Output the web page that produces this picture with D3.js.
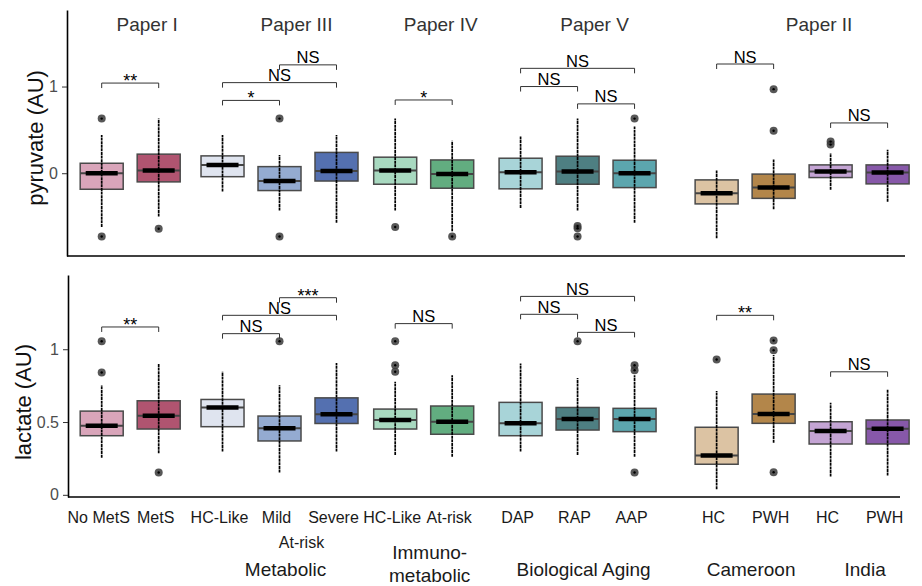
<!DOCTYPE html>
<html>
<head>
<meta charset="utf-8">
<script src="https://cdn.jsdelivr.net/npm/d3@7/dist/d3.min.js"></script>
<style>
  body { margin: 0; background: #fff; }
  svg { display: block; font-family: "Liberation Sans", Arial, sans-serif; }
</style>
</head>
<body>
<svg id="chart" width="922" height="586"></svg>
<script>
// ---- data ----
const categories = ["No MetS", "MetS", "HC-Like", "Mild\nAt-risk", "Severe", "HC-Like", "At-risk",
                    "DAP", "RAP", "AAP", "HC", "PWH", "HC", "PWH"];
const groupOf   = [0, 0, 1, 1, 1, 2, 2, 3, 3, 3, 4, 4, 5, 5];
const groupNames = ["", "Metabolic", "Immuno-\nmetabolic", "Biological Aging", "Cameroon", "India"];
const papers     = ["Paper I", "Paper III", "Paper IV", "Paper V", "Paper II"];
const paperSpan  = [[0, 1], [2, 4], [5, 6], [7, 9], [10, 13]];
const fills = ["#d9a5ba", "#b05470", "#dfe4ef", "#94abd1", "#5470b0", "#a8d9c0", "#62ad80",
               "#a8d4d8", "#4e7f82", "#5ca6ae", "#dcc3a3", "#b3864a", "#c4a4d4", "#8758a9"];

// pyruvate (AU)
const pyrLo  = [-0.62, -0.50, -0.21, -0.43, -0.57, -0.43, -0.67, -0.40, -0.43, -0.57, -0.75, -0.415, -0.19, -0.33];
const pyrQ1  = [-0.185, -0.10, -0.04, -0.20, -0.09, -0.127, -0.173, -0.18, -0.127, -0.166, -0.354, -0.29, -0.05, -0.123];
const pyrMed = [0.00, 0.03, 0.095, -0.09, 0.027, 0.03, -0.008, 0.01, 0.02, 0.00, -0.23, -0.166, 0.02, 0.007];
const pyrQ3  = [0.115, 0.22, 0.20, 0.076, 0.24, 0.185, 0.153, 0.173, 0.196, 0.15, -0.077, -0.01, 0.096, 0.096];
const pyrHi  = [0.44, 0.63, 0.44, 0.21, 0.44, 0.63, 0.376, 0.43, 0.63, 0.54, 0.03, 0.16, 0.23, 0.27];
const pyrOut = [[0.63, -0.73], [-0.64], [], [0.63, -0.73], [], [-0.62], [-0.73], [],
                [-0.61, -0.635, -0.73], [0.63], [], [0.97, 0.49], [0.365, 0.33], []];
const pyrSig = [[0, 1, 1.04, "**"], [2, 3, 0.84, "*"], [2, 4, 1.045, "NS"], [3, 4, 1.25, "NS"],
                [5, 6, 0.845, "*"], [7, 8, 1.0, "NS"], [8, 9, 0.80, "NS"], [7, 9, 1.21, "NS"],
                [10, 11, 1.26, "NS"], [12, 13, 0.58, "NS"]];

// lactate (AU)
const lacLo  = [0.255, 0.285, 0.297, 0.153, 0.297, 0.274, 0.262, 0.297, 0.274, 0.262, 0.039, 0.358, 0.125, 0.132];
const lacQ1  = [0.406, 0.452, 0.468, 0.37, 0.49, 0.452, 0.416, 0.406, 0.445, 0.434, 0.21, 0.491, 0.349, 0.349];
const lacMed = [0.475, 0.543, 0.60, 0.457, 0.553, 0.514, 0.502, 0.491, 0.52, 0.52, 0.27, 0.555, 0.438, 0.454];
const lacQ3  = [0.575, 0.646, 0.655, 0.541, 0.666, 0.589, 0.61, 0.635, 0.60, 0.594, 0.464, 0.692, 0.502, 0.514];
const lacHi  = [0.753, 0.90, 0.845, 0.753, 0.906, 0.776, 0.822, 0.902, 0.803, 0.822, 0.714, 0.96, 0.632, 0.724];
const lacOut = [[1.055, 0.84], [0.153], [], [1.055], [], [1.055, 0.89, 0.845], [], [],
                [1.055], [0.89, 0.856, 0.153], [0.93], [1.06, 0.993, 0.155], [], []];
const lacSig = [[0, 1, 1.153, "**"], [2, 3, 1.107, "NS"], [2, 4, 1.233, "NS"], [3, 4, 1.354, "***"],
                [5, 6, 1.176, "NS"], [7, 8, 1.24, "NS"], [8, 9, 1.116, "NS"], [7, 9, 1.363, "NS"],
                [10, 11, 1.233, "**"], [12, 13, 0.845, "NS"]];

// ---- layout ----
const svg = d3.select("#chart");
const groupGap = [0, 0.12, 0.03, 0.2, 0.44, 0];   // extra space before each group, in box slots
const slots = [];
let acc = 0;
categories.forEach((c, i) => {
  if (i > 0 && groupOf[i] !== groupOf[i - 1]) acc += groupGap[groupOf[i]];
  slots.push(i + acc);
});
const x = d3.scaleLinear().domain([0, d3.max(slots)]).range([101.7, 887.6]);
const cx = i => x(slots[i]);
const boxW = 43;

function drawPanel(p) {
  const g = svg.append("g");
  const y = d3.scaleLinear().domain(p.domain).range([p.bottom, p.top]);

  // y axis
  const ax = g.append("g").attr("transform", `translate(${p.left},0)`)
    .call(d3.axisLeft(y).tickValues(p.ticks).tickFormat(d3.format("~g")).tickSize(5).tickPadding(4).tickSizeOuter(0));
  ax.select(".domain").attr("stroke", "#000").attr("stroke-width", 1.6);
  ax.selectAll(".tick line").attr("stroke", "#333").attr("stroke-width", 1);
  ax.selectAll(".tick text").attr("fill", "#4d4d4d").style("font-size", "16px")
    .style("font-family", "'Liberation Sans', Arial, sans-serif");

  // x axis line
  g.append("line").attr("x1", p.left).attr("x2", p.right).attr("y1", p.bottom).attr("y2", p.bottom)
    .attr("stroke", "#000").attr("stroke-width", 1.6);

  // y title
  g.append("text").attr("transform", `translate(${p.titleX},${p.titleY}) rotate(-90)`)
    .attr("text-anchor", "middle").style("font-size", "22px").attr("fill", "#111").text(p.title);

  const idx = d3.range(categories.length);
  const boxes = g.selectAll("g.box").data(idx).join("g").attr("class", "box");

  boxes.append("rect")
    .attr("x", i => cx(i) - boxW / 2).attr("width", boxW)
    .attr("y", i => y(p.q3[i])).attr("height", i => y(p.q1[i]) - y(p.q3[i]))
    .attr("fill", i => fills[i]).attr("stroke", "#4a4a4a").attr("stroke-width", 1.5);
  boxes.append("line")
    .attr("x1", i => cx(i) - boxW / 2).attr("x2", i => cx(i) + boxW / 2)
    .attr("y1", i => y(p.med[i])).attr("y2", i => y(p.med[i]))
    .attr("stroke", "#444").attr("stroke-width", 2);
  // column of data points / whisker
  boxes.append("line")
    .attr("x1", i => cx(i)).attr("x2", i => cx(i))
    .attr("y1", i => y(p.lo[i])).attr("y2", i => y(p.hi[i]))
    .attr("stroke", "#000").attr("stroke-width", 1.7).attr("stroke-dasharray", "3,0.6");
  // summary bar
  boxes.append("line")
    .attr("x1", i => cx(i) - 16).attr("x2", i => cx(i) + 16)
    .attr("y1", i => y(p.med[i])).attr("y2", i => y(p.med[i]))
    .attr("stroke", "#000").attr("stroke-width", 4.5);

  // outliers
  const outs = [];
  p.out.forEach((arr, i) => arr.forEach(v => outs.push({ i, v })));
  g.selectAll("circle.out").data(outs).join("circle").attr("class", "out")
    .attr("cx", d => cx(d.i)).attr("cy", d => y(d.v)).attr("r", 4)
    .attr("fill", "#3a3a3a").attr("fill-opacity", 0.85);
  g.selectAll("circle.pt").data(outs).join("circle").attr("class", "pt")
    .attr("cx", d => cx(d.i)).attr("cy", d => y(d.v)).attr("r", 1.2).attr("fill", "#000");

  // significance brackets
  const sig = g.selectAll("g.sig").data(p.sig).join("g").attr("class", "sig");
  sig.append("path")
    .attr("d", d => `M${cx(d[0])},${y(d[2]) + 5}V${y(d[2])}H${cx(d[1])}V${y(d[2]) + 5}`)
    .attr("fill", "none").attr("stroke", "#333").attr("stroke-width", 1);
  sig.append("text")
    .attr("x", d => (cx(d[0]) + cx(d[1])) / 2)
    .attr("y", d => d[3] === "NS" ? y(d[2]) - 1.5 : y(d[2]) + 4)
    .attr("text-anchor", "middle")
    .style("font-size", d => d[3] === "NS" ? "16.5px" : "18px")
    .attr("fill", "#000").text(d => d[3]);
}

drawPanel({
  domain: [-0.955, 1.883], top: 10, bottom: 256, left: 67, right: 905, ticks: [0, 1],
  title: "pyruvate (AU)", titleX: 42.5, titleY: 138,
  lo: pyrLo, q1: pyrQ1, med: pyrMed, q3: pyrQ3, hi: pyrHi, out: pyrOut, sig: pyrSig
});
drawPanel({
  domain: [-0.015, 1.51], top: 275, bottom: 497, left: 68, right: 900, ticks: [0, 0.5, 1],
  title: "lactate (AU)", titleX: 31, titleY: 402,
  lo: lacLo, q1: lacQ1, med: lacMed, q3: lacQ3, hi: lacHi, out: lacOut, sig: lacSig
});

// paper titles
svg.selectAll("text.paper").data(papers).join("text").attr("class", "paper")
  .attr("x", (d, k) => (cx(paperSpan[k][0]) + cx(paperSpan[k][1])) / 2 + 17)
  .attr("y", 30.5).attr("text-anchor", "middle")
  .style("font-size", "19px").attr("fill", "#333").text(d => d);

// category tick labels
const tl = svg.selectAll("text.cat").data(categories).join("text").attr("class", "cat")
  .attr("text-anchor", "middle").style("font-size", "16px").attr("fill", "#1a1a1a");
tl.each(function (d, i) {
  const lines = d.split("\n");
  lines.forEach((ln, k) => {
    d3.select(this).append("tspan")
      .attr("x", cx(i) - 3 + (k > 0 ? 25 : 0))
      .attr("y", 523 + k * 25)
      .text(ln);
  });
});

// group labels
const groupIdx = d3.range(groupNames.length).filter(k => groupNames[k] !== "");
svg.selectAll("text.grp").data(groupIdx).join("text").attr("class", "grp")
  .attr("text-anchor", "middle").style("font-size", "19px").attr("fill", "#1a1a1a")
  .each(function (k) {
    const members = d3.range(categories.length).filter(i => groupOf[i] === k);
    const gx = (cx(members[0]) + cx(members[members.length - 1])) / 2 + 6;
    const lines = groupNames[k].split("\n");
    lines.forEach((ln, j) => {
      d3.select(this).append("tspan")
        .attr("x", gx)
        .attr("y", lines.length > 1 ? 559 + j * 23 : 576)
        .text(ln);
    });
  });
</script>
</body>
</html>
